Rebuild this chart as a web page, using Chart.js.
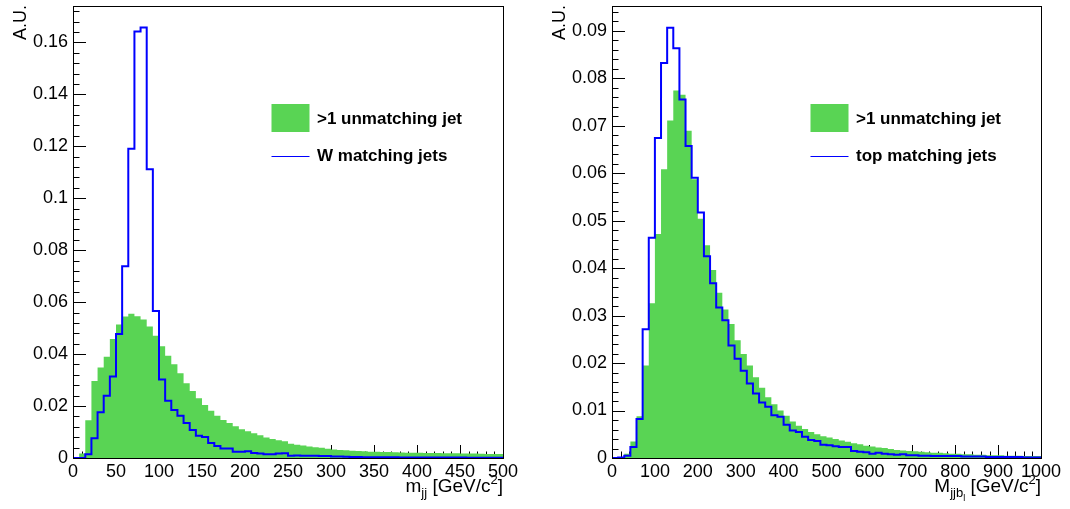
<!DOCTYPE html>
<html>
<head>
<meta charset="utf-8">
<script src="https://cdn.jsdelivr.net/npm/chart.js@4.4.1/dist/chart.umd.min.js"></script>
<style>
  html, body { margin: 0; padding: 0; background: #fff; }
  #wrap { position: relative; width: 1070px; height: 509px; overflow: hidden; }
  canvas { position: absolute; top: 0; }
  #izq { left: 0; }
  #der { left: 535px; }
</style>
</head>
<body>
<div id="wrap">
  <canvas id="izq" width="535" height="509"></canvas>
  <canvas id="der" width="535" height="509"></canvas>
</div>
<script>
// ---- Datos: m_jj (panel izquierdo), 70 bins de 0 a 500 GeV
const rangoW = [0, 500];
const yMaxW = 0.174;
const unmatchW = [
  0.0003, 0.0017, 0.0145, 0.0296, 0.0348, 0.0390, 0.0458, 0.0514, 0.0545, 0.0555,
  0.0546, 0.0533, 0.0506, 0.0471, 0.0430, 0.0394, 0.0361, 0.0326, 0.0288, 0.0258,
  0.0230, 0.0204, 0.0182, 0.0163, 0.0146, 0.0135, 0.0122, 0.0111, 0.0103, 0.0095,
  0.0088, 0.0079, 0.0073, 0.0068, 0.0064, 0.0055, 0.0051, 0.0048, 0.0044, 0.0041,
  0.0039, 0.0036, 0.0033, 0.0031, 0.0030, 0.0028, 0.0027, 0.0026, 0.0024, 0.0024,
  0.0023, 0.0023, 0.0022, 0.0021, 0.0020, 0.0020, 0.0020, 0.0019, 0.0019, 0.0019,
  0.0018, 0.0018, 0.0018, 0.0017, 0.0017, 0.0017, 0.0016, 0.0015, 0.0015, 0.0015
];
const matchW = [
  0, 0, 0.0014, 0.0076, 0.0176, 0.0240, 0.0314, 0.0477, 0.0738, 0.1190,
  0.1642, 0.1657, 0.1112, 0.0566, 0.0302, 0.0220, 0.0185, 0.0163, 0.0135, 0.0108,
  0.0086, 0.0081, 0.0058, 0.0046, 0.0037, 0.0037, 0.0024, 0.0024, 0.0026, 0.0019,
  0.0017, 0.0014, 0.0014, 0.0017, 0.0018, 0.0009, 0.0010, 0.0009, 0.0009, 0.0009,
  0.0008, 0.0008, 0.0006, 0.0006, 0.0005, 0.0004, 0.0004, 0.0003, 0.0003, 0.0003,
  0.0003, 0.0003, 0.0003, 0.0002, 0.0002, 0.0002, 0.0002, 0.0002, 0.0002, 0.0002,
  0.0002, 0.0002, 0.0002, 0.0002, 0.0001, 0.0001, 0.0001, 0.0001, 0.0001, 0.0001
];
const xTicksW = ['0', '50', '100', '150', '200', '250', '300', '350', '400', '450', '500'];
const yTicksW = ['0', '0.02', '0.04', '0.06', '0.08', '0.1', '0.12', '0.14', '0.16'];
const leyendaW = ['>1 unmatching jet', 'W matching jets'];

// ---- Datos: M_jjb (panel derecho), 70 bins de 0 a 1000 GeV
const rangoTop = [0, 1000];
const yMaxTop = 0.0952;
const unmatchTop = [
  0, 0.0002, 0.0009, 0.0035, 0.0088, 0.0195, 0.0326, 0.0472, 0.0608, 0.0711,
  0.0774, 0.0765, 0.0689, 0.0587, 0.0504, 0.0448, 0.0396, 0.0348, 0.0313, 0.0282,
  0.0248, 0.0219, 0.0195, 0.0170, 0.0148, 0.0128, 0.0113, 0.0100, 0.0089, 0.0077,
  0.0068, 0.0061, 0.0055, 0.0050, 0.0046, 0.0043, 0.0040, 0.0037, 0.0034, 0.0031,
  0.0029, 0.0026, 0.0024, 0.0022, 0.0021, 0.0019, 0.0017, 0.0016, 0.0015, 0.0014,
  0.0013, 0.0012, 0.0011, 0.0011, 0.0010, 0.0009, 0.0009, 0.0008, 0.0008, 0.0007,
  0.0007, 0.0006, 0.0006, 0.0006, 0.0005, 0.0005, 0.0005, 0.0004, 0.0004, 0.0004
];
const matchTop = [
  0, 0.0001, 0.0005, 0.0023, 0.0082, 0.0271, 0.0464, 0.0674, 0.0832, 0.0906,
  0.0863, 0.0755, 0.0657, 0.0590, 0.0517, 0.0425, 0.0368, 0.0317, 0.0290, 0.0237,
  0.0209, 0.0184, 0.0157, 0.0136, 0.0117, 0.0108, 0.0090, 0.0087, 0.0070, 0.0058,
  0.0055, 0.0045, 0.0038, 0.0036, 0.0028, 0.0027, 0.0025, 0.0023, 0.0023, 0.0015,
  0.0013, 0.0012, 0.0009, 0.0011, 0.0009, 0.0008, 0.0007, 0.0008, 0.0006, 0.0006,
  0.0005, 0.0005, 0.0004, 0.0004, 0.0004, 0.0004, 0.0004, 0.0003, 0.0003, 0.0003,
  0.0003, 0.0002, 0.0002, 0.0002, 0.0002, 0.0002, 0.0002, 0.0001, 0.0001, 0.0001
];
const xTicksTop = ['0', '100', '200', '300', '400', '500', '600', '700', '800', '900', '1000'];
const yTicksTop = ['0', '0.01', '0.02', '0.03', '0.04', '0.05', '0.06', '0.07', '0.08', '0.09'];
const leyendaTop = ['>1 unmatching jet', 'top matching jets'];

const VERDE = '#59d454';
const AZUL = '#0000ff';
const FUENTE = '"Liberation Sans", Arial, Helvetica, sans-serif';

// puntos de un histograma: borde izquierdo de cada bin + borde final
function puntosHisto(valores, rango) {
  const ancho = (rango[1] - rango[0]) / valores.length;
  const pts = valores.map((v, i) => ({ x: rango[0] + i * ancho, y: v }));
  pts.push({ x: rango[1], y: valores[valores.length - 1] });
  return pts;
}

// texto con sub/superindices, alineado a la derecha en xFin
function textoCompuesto(ctx, partes, xFin, yBase) {
  let total = 0;
  partes.forEach(p => { ctx.font = p.size + 'px ' + FUENTE; total += ctx.measureText(p.t).width; });
  let x = xFin - total;
  partes.forEach(p => {
    ctx.font = p.size + 'px ' + FUENTE;
    ctx.fillText(p.t, x, yBase + (p.dy || 0));
    x += ctx.measureText(p.t).width;
  });
}

// estilo ROOT: marcas hacia dentro, marco, leyenda y titulos
const estiloROOT = {
  id: 'estiloROOT',
  beforeDatasetsDraw(chart, args, opts) {
    const ctx = chart.ctx, a = chart.chartArea;
    const xs = chart.scales.x, ys = chart.scales.y;
    ctx.save();
    ctx.strokeStyle = '#000';
    ctx.lineWidth = 1;
    ctx.beginPath();
    const nx = Math.round((xs.max - xs.min) / opts.xMenor);
    for (let i = 0; i <= nx; i++) {
      const px = Math.round(xs.getPixelForValue(xs.min + i * opts.xMenor)) + 0.5;
      const len = (i % opts.subdiv === 0) ? 13 : 6.5;
      ctx.moveTo(px, a.bottom);
      ctx.lineTo(px, a.bottom - len);
    }
    const ny = Math.floor((ys.max - ys.min) / opts.yMenor + 1e-6);
    for (let i = 0; i <= ny; i++) {
      const py = Math.round(ys.getPixelForValue(ys.min + i * opts.yMenor)) + 0.5;
      const len = (i % opts.subdiv === 0) ? 13 : 6.5;
      ctx.moveTo(a.left, py);
      ctx.lineTo(a.left + len, py);
    }
    ctx.stroke();
    ctx.restore();
  },
  afterDraw(chart, args, opts) {
    const ctx = chart.ctx, a = chart.chartArea;
    ctx.save();
    // marco
    ctx.strokeStyle = '#000';
    ctx.lineWidth = 1;
    ctx.strokeRect(Math.round(a.left) + 0.5, Math.round(a.top) + 0.5,
      Math.round(a.right - a.left), Math.round(a.bottom - a.top));

    // leyenda
    const lx = a.left + 198.5;
    ctx.fillStyle = VERDE;
    ctx.fillRect(lx, 104, 38, 28);
    ctx.strokeStyle = AZUL;
    ctx.beginPath();
    ctx.moveTo(lx, 156.5);
    ctx.lineTo(lx + 38, 156.5);
    ctx.stroke();
    ctx.fillStyle = '#000';
    ctx.font = 'bold 17px ' + FUENTE;
    ctx.textBaseline = 'alphabetic';
    ctx.textAlign = 'left';
    ctx.fillText(opts.leyenda[0], a.left + 244, 123.5);
    ctx.fillText(opts.leyenda[1], a.left + 244, 160.5);

    // titulo eje x
    textoCompuesto(ctx, opts.tituloX, a.right, 492);

    // titulo eje y (girado)
    ctx.translate(a.left - 47, a.top - 1);
    ctx.rotate(-Math.PI / 2);
    ctx.font = '18px ' + FUENTE;
    ctx.textAlign = 'right';
    ctx.fillText('A.U.', 0, 0);
    ctx.restore();
  }
};

function crearHisto(id, rango, yMax, unmatch, match, xTicks, yTicks, leyenda, tituloX, xMenor, yMenor, yAncho, padDer) {
  const xVals = xTicks.map(Number);
  const yVals = yTicks.map(Number);
  return new Chart(document.getElementById(id), {
    type: 'line',
    data: {
      datasets: [
        {
          label: leyenda[1],
          data: puntosHisto(match, rango),
          stepped: 'before',
          borderColor: AZUL,
          borderWidth: 2,
          pointRadius: 0,
          fill: false,
          order: 0
        },
        {
          label: leyenda[0],
          data: puntosHisto(unmatch, rango),
          stepped: 'before',
          borderWidth: 0,
          borderColor: 'rgba(0,0,0,0)',
          backgroundColor: VERDE,
          pointRadius: 0,
          fill: 'origin',
          order: 1
        }
      ]
    },
    options: {
      responsive: false,
      animation: false,
      events: [],
      layout: { padding: { left: 0, top: 6, right: padDer, bottom: 0 } },
      plugins: {
        legend: { display: false },
        tooltip: { enabled: false },
        estiloROOT: { leyenda: leyenda, tituloX: tituloX, xMenor: xMenor, yMenor: yMenor, subdiv: 5 }
      },
      scales: {
        x: {
          type: 'linear',
          min: rango[0],
          max: rango[1],
          grid: { display: false, drawTicks: false },
          border: { display: false },
          afterBuildTicks: s => { s.ticks = xVals.map(v => ({ value: v })); },
          afterFit: s => { s.height = 51; s.paddingLeft = 0; s.paddingRight = 0; },
          ticks: {
            autoSkip: false,
            maxRotation: 0,
            padding: 3,
            color: '#000',
            font: { family: FUENTE, size: 18 },
            callback: (v, i) => xTicks[i]
          }
        },
        y: {
          type: 'linear',
          min: 0,
          max: yMax,
          grid: { display: false, drawTicks: false },
          border: { display: false },
          afterBuildTicks: s => { s.ticks = yVals.map(v => ({ value: v })); },
          afterFit: s => { s.width = yAncho; s.paddingTop = 0; s.paddingBottom = 0; },
          ticks: {
            autoSkip: false,
            padding: 5,
            color: '#000',
            font: { family: FUENTE, size: 18 },
            callback: (v, i) => yTicks[i]
          }
        }
      }
    },
    plugins: [estiloROOT]
  });
}

crearHisto('izq', rangoW, yMaxW, unmatchW, matchW, xTicksW, yTicksW, leyendaW,
  [{ t: 'm', size: 19 }, { t: 'jj', size: 13, dy: 5 }, { t: ' [GeV/c', size: 19 }, { t: '2', size: 13, dy: -8 }, { t: ']', size: 19 }],
  10, 0.004, 73, 32);

crearHisto('der', rangoTop, yMaxTop, unmatchTop, matchTop, xTicksTop, yTicksTop, leyendaTop,
  [{ t: 'M', size: 19 }, { t: 'jjb', size: 13, dy: 5 }, { t: 'l', size: 9, dy: 9 }, { t: ' [GeV/c', size: 19 }, { t: '2', size: 13, dy: -8 }, { t: ']', size: 19 }],
  20, 0.002, 77, 29);
</script>
</body>
</html>
